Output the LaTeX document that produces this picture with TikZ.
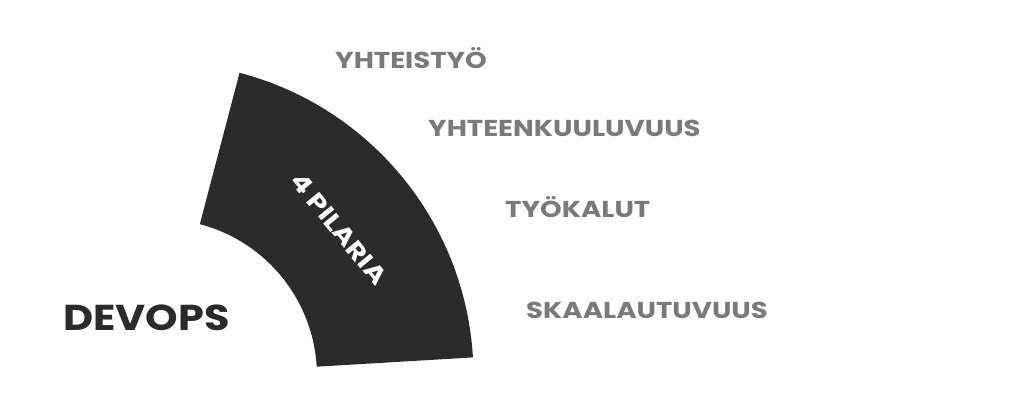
\documentclass[tikz,border=0pt]{standalone}
\usepackage{fontspec}
\setmainfont{Poppins}
\definecolor{pillardark}{HTML}{2B2B2B}
\definecolor{labelgrey}{HTML}{7A7A7A}
\begin{document}
\begin{tikzpicture}
[x=1pt,y=1pt,
  pillardecorate/.style={fill=pillardark,draw=none},%
  pillartext/.style={text=white,inner sep=0pt,font=\bfseries\fontsize{24}{24}\selectfont},%
  labeldecorate/.style={text=labelgrey,anchor=base west,inner sep=0pt,xscale=1.2,font=\bfseries\fontsize{23}{23}\selectfont},%
  titledecorate/.style={text=pillardark,anchor=base west,inner sep=0pt,xscale=1.15,font=\bfseries\fontsize{36}{36}\selectfont}]
\useasboundingbox (0,0) rectangle (1024,404);
%% centre of the ring sector
\coordinate (centre) at (160,28);
%% the sector
\fill[pillardecorate] ([shift={(3.4:157)}]centre) -- ([shift={(3.4:313.5)}]centre)
  arc[start angle=3.4,end angle=75.3,radius=313.5]
  -- ([shift={(75.3:157)}]centre)
  arc[start angle=75.3,end angle=3.4,radius=157] -- cycle;
\node (pilaria) at ([shift={(39.35:232)}]centre) [pillartext,rotate=-50.65,xscale=1.2] {4 PILARIA};
%% title
\node (devops) at (63,74) [titledecorate] {DEVOPS};
%% pillars
\foreach \nodename/\x/\y/\nodetext in {
  yhteistyo/335/335/YHTEISTYÖ,
  yhteenkuuluvuus/428/267/YHTEENKUULUVUUS,
  tyokalut/505/186/TYÖKALUT,
  skaalautuvuus/526/85/SKAALAUTUVUUS} {
  \node (\nodename) at (\x,\y) [labeldecorate] {\nodetext};
}
\end{tikzpicture}
\end{document}
